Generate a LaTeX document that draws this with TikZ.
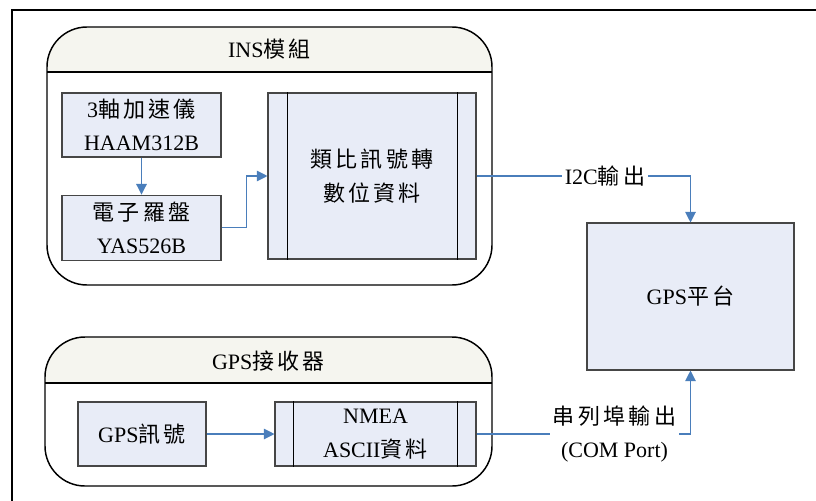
\documentclass[tikz,border=0pt]{standalone}
\usepackage{fontspec}
\setmainfont{Liberation Serif}
\newfontfamily\cjk[LetterSpace=15]{Noto Sans CJK TC}
\usetikzlibrary{arrows.meta,calc,positioning}
\definecolor{boxfill}{RGB}{232,236,247}
\definecolor{boxline}{RGB}{70,70,70}
\definecolor{headfill}{RGB}{245,245,239}
\definecolor{linkblue}{RGB}{74,126,187}
\tikzset{
diagram/.style={x=0.75pt,y=-0.75pt,font=\fontsize{16.5}{25}\selectfont},
frame/.style={line width=2.2pt},
group/.style={draw=black,line width=1.1pt,rounded corners=30pt},
groupsep/.style={draw=black,line width=1.1pt},
block/.style={draw=boxline,fill=boxfill,line width=0.8pt,align=center,inner sep=0pt},
sideline/.style={draw=black,line width=0.8pt},
wire/.style={draw=linkblue,line width=0.8pt},
link/.style={wire,-{Triangle[length=8pt,width=8pt]}},
tag/.style={align=center,inner sep=2pt},
}

\begin{document}
\begin{tikzpicture}[diagram]
\useasboundingbox (0,0) rectangle (816,500);
\draw[frame] (12,502) -- (12,10) -- (818,10);

% INS group
\begin{scope}
\clip (40,20) rectangle (500,72);
\fill[headfill,rounded corners=30pt] (47,27) rectangle (492,285);
\end{scope}
\draw[group] (47,27) rectangle (492,285);
\draw[groupsep] (47,72) -- (492,72);
\node (ins) at (269.5,49) {INS{\cjk 模組}};

% GPS receiver group
\begin{scope}
\clip (40,330) rectangle (500,383);
\fill[headfill,rounded corners=30pt] (45,337) rectangle (492,486);
\end{scope}
\draw[group] (45,337) rectangle (492,486);
\draw[groupsep] (45,383) -- (492,383);
\node (gpsrx) at (268.5,361) {GPS{\cjk 接收器}};

% blocks
\node[block,minimum width=119.25pt,minimum height=48pt] (acc) at (141.5,125) {3{\cjk 軸加速儀}\\HAAM312B};
\node[block,minimum width=119.25pt,minimum height=48.75pt,below=27.75pt of acc] (compass) {{\cjk 電子羅盤}\\YAS526B};
\node[block,minimum width=156pt,minimum height=124.5pt] (adc) at (372,176) {{\cjk 類比訊號轉}\\{\cjk 數位資料}};
\draw[sideline] ([xshift=15pt]adc.north west) -- ([xshift=15pt]adc.south west);
\draw[sideline] ([xshift=-14.25pt]adc.north east) -- ([xshift=-14.25pt]adc.south east);

\node[block,minimum width=96pt,minimum height=48pt] (gpssig) at (142,434) {GPS{\cjk 訊號}};
\node[block,minimum width=150.75pt,minimum height=48pt] (nmea) at (375.5,434) {NMEA\\ASCII{\cjk 資料}};
\draw[sideline] ([xshift=14.25pt]nmea.north west) -- ([xshift=14.25pt]nmea.south west);
\draw[sideline] ([xshift=-14.25pt]nmea.north east) -- ([xshift=-14.25pt]nmea.south east);

\node[block,minimum width=155.25pt,minimum height=110.25pt] (gpsbox) at (690.5,296.5) {GPS{\cjk 平台}};

% labels
\node[tag] (i2c) at (605,176) {I2C{\cjk 輸出}};
\node[tag] (com) at (614.5,434) {{\cjk 串列埠輸出}\\(COM Port)};

% connectors
\draw[link] (acc) -- (compass);
\draw[link] (compass.east) -- ++(25,0) |- (adc.west);
\draw[wire] (adc.east) -- (i2c.west);
\draw[link] (i2c.east) -| (gpsbox.north);
\draw[link] (gpssig) -- (nmea);
\draw[wire] (nmea.east) -- (com.west);
\draw[link] (com.east) -| (gpsbox.south);
\end{tikzpicture}
\end{document}
